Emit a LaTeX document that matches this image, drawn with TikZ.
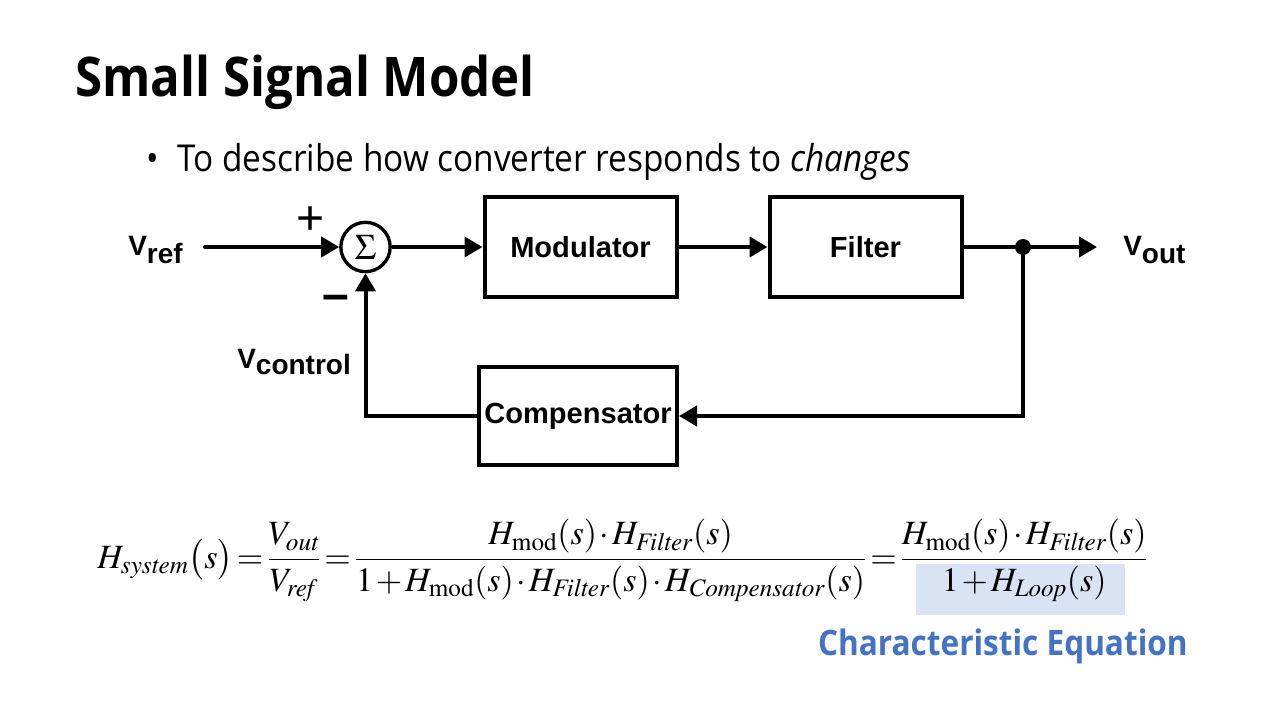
\documentclass[tikz,border=0pt]{standalone}
\usepackage{mathptmx}
\usepackage{graphicx}
\usepackage[no-math]{fontspec}
\usetikzlibrary{arrows.meta}
\newfontfamily\slidefont[FakeStretch=0.9]{Open Sans}
\newfontfamily\diafont{Liberation Sans}
\definecolor{hlblue}{RGB}{218,227,243}
\definecolor{txtblue}{RGB}{68,114,196}
\tikzset{
  blk/.style={draw, line width=3pt, minimum width=144pt, minimum height=74.25pt, inner sep=0pt,
    font=\diafont\bfseries\fontsize{21.8}{24}\selectfont},
  sig/.style={line width=3pt, -{Triangle[length=13.5pt,width=15pt]}},
  lbl/.style={font=\diafont\bfseries\fontsize{21}{24}\selectfont, inner sep=0pt, anchor=base west},
  sumnode/.style={draw, circle, line width=2.5pt, minimum size=37pt, inner sep=0pt},
  slidetxt/.style={inner sep=0pt, anchor=base west}
}
\begin{document}
\begin{tikzpicture}[x=0.75pt,y=-0.75pt]
\useasboundingbox[fill=white] (0,0) rectangle (1280,720);

% title and bullet
\node[slidetxt, font=\slidefont\bfseries\fontsize{41}{48}\selectfont] (title) at (75,97) {Small Signal Model};
\node[slidetxt, font=\slidefont\fontsize{27.8}{32}\selectfont] (bullet) at (146,172) {•};
\node[slidetxt, font=\slidefont\fontsize{27.8}{32}\selectfont] (btext) at (177,172) {To describe how converter responds to \textit{changes}};

% blocks
\node[sumnode] (sum) at (365.5,247) {\fontsize{27}{27}\selectfont$\Sigma$};
\node[blk] (mod) at (580.5,247) {Modulator};
\node[blk] (filt) at (865.5,247) {Filter};
\node[blk, minimum width=148.5pt, minimum height=73.5pt] (comp) at (578,416) {Compensator};

\coordinate (vin) at (205,247);
\coordinate (j) at (1023,247);
\coordinate (vo) at (1097,247);

% connectors
\draw[sig, line cap=round] (vin) -- (sum.west);
\draw[sig] (sum.east) -- (mod.west);
\draw[sig] (mod.east) -- (filt.west);
\draw[line width=3pt] (filt.east) -- (j);
\draw[sig] (j) -- (vo);
\draw[sig] (j) |- (comp.east);
\draw[sig] (comp.west) -| (sum.south);
\fill (j) circle[radius=6pt];

% labels
\node[lbl] (vref) at (128,255) {V\raisebox{-6pt}{ref}};
\node[lbl] (vout) at (1123,255) {V\raisebox{-6pt}{out}};
\node[lbl] (vctl) at (237,368) {V\raisebox{-5pt}{control}};
\node[inner sep=0pt, font=\diafont\fontsize{36}{36}\selectfont] (plus) at (311,221) {+};
\node[inner sep=0pt, font=\diafont\bfseries\fontsize{36}{36}\selectfont] (minus) at (336,303) {–};

% equation
\fill[hlblue] (916,564) rectangle (1125,615);
\node[slidetxt] (eq) at (97,568)
  {\resizebox{788pt}{!}{\fontsize{28}{34}\selectfont\thickmuskip=2mu\medmuskip=1.5mu
   $\displaystyle H_{\mathit{system}}\bigl(s\bigr)=\frac{V_{\mathit{out}}}{V_{\mathit{ref}}}
   =\frac{H_{\mathrm{mod}}(s)\cdot H_{\mathit{Filter}}(s)}{1+H_{\mathrm{mod}}(s)\cdot H_{\mathit{Filter}}(s)\cdot H_{\mathit{Compensator}}(s)}
   =\frac{H_{\mathrm{mod}}(s)\cdot H_{\mathit{Filter}}(s)}{1+H_{\mathit{Loop}}(s)}$}};
\node[inner sep=0pt, anchor=base east, font=\slidefont\bfseries\fontsize{26.3}{30}\selectfont, text=txtblue] (ce) at (1188,655) {Characteristic Equation};
\end{tikzpicture}
\end{document}
